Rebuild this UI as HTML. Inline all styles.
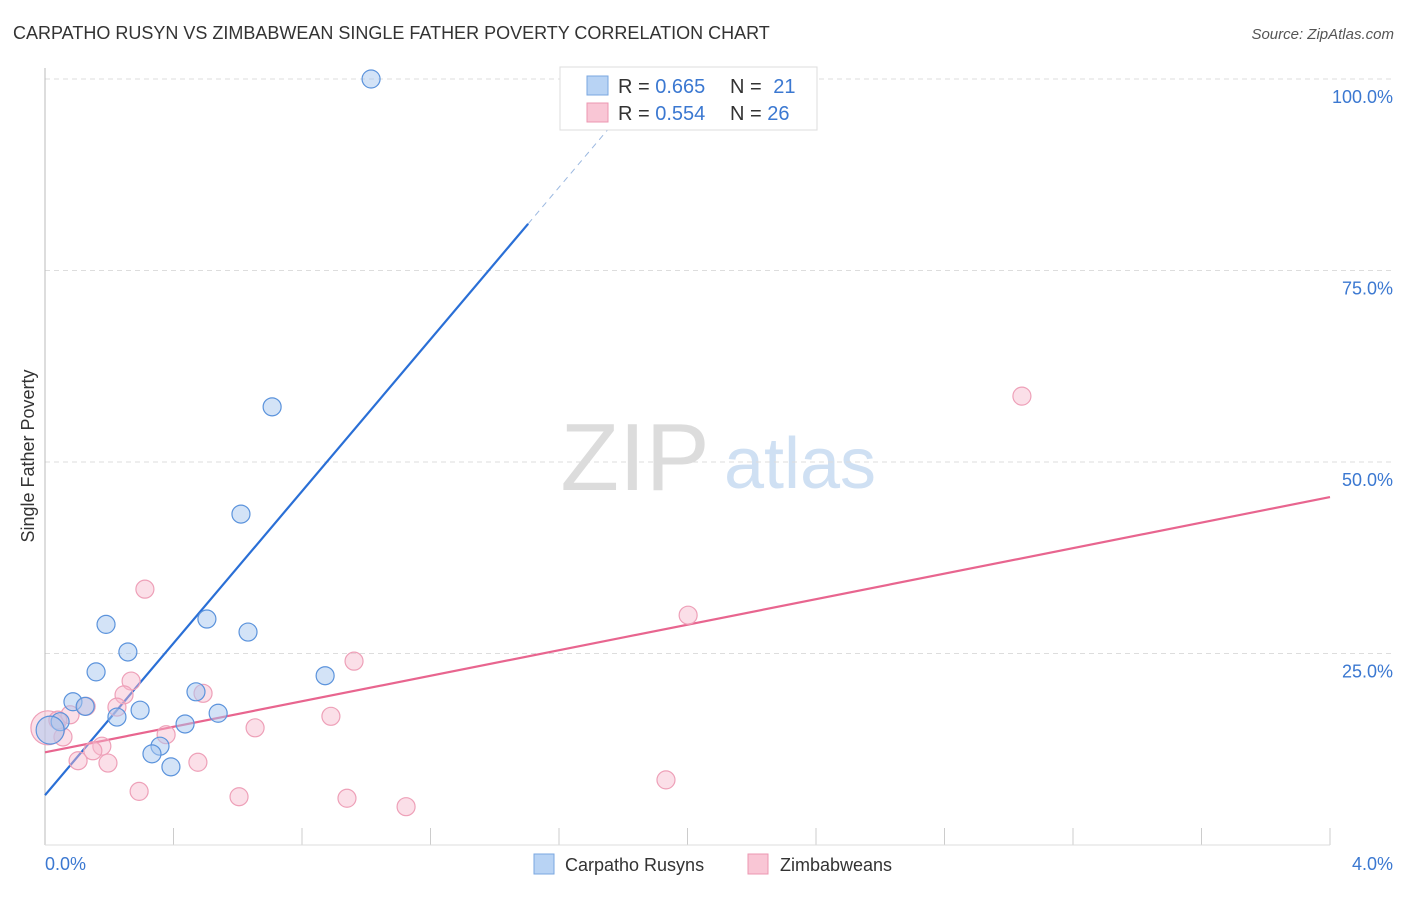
<!DOCTYPE html>
<html><head><meta charset="utf-8">
<style>
body{margin:0;background:#fff;font-family:"Liberation Sans",sans-serif;}
svg text{font-family:"Liberation Sans",sans-serif;}
</style></head>
<body>
<svg id="chart" width="1406" height="892" viewBox="0 0 1406 892" xmlns="http://www.w3.org/2000/svg">
<text x="13" y="39" font-size="18" fill="#333">CARPATHO RUSYN VS ZIMBABWEAN SINGLE FATHER POVERTY CORRELATION CHART</text>
<text x="1394" y="39" font-size="15" fill="#555" font-style="italic" text-anchor="end">Source: ZipAtlas.com</text>
<g>
<text x="635" y="490" font-size="96" fill="#dcdcdc" font-family="Liberation Serif" text-anchor="middle">ZIP</text>
<text x="800" y="488" font-size="72" fill="#cfe0f3" text-anchor="middle">atlas</text>
</g>
<g id="grid"></g>
<line x1="45" y1="68" x2="45" y2="845" stroke="#bbb"/>
<line x1="45" y1="845" x2="1330" y2="845" stroke="#ddd"/>
<text transform="translate(34,456) rotate(-90)" font-size="18" fill="#333" text-anchor="middle">Single Father Poverty</text>
<text x="45" y="870" font-size="18" fill="#3b78d1">0.0%</text>
<text x="1393" y="870" font-size="18" fill="#3b78d1" text-anchor="end">4.0%</text>
<g id="lines"></g>
<g id="points"></g>
<g>
<rect x="560" y="67" width="257" height="63" fill="#fff" stroke="#ddd"/>
<rect x="587" y="76" width="21" height="19" fill="#b8d3f4" stroke="#7aa7e0"/>
<rect x="587" y="103" width="21" height="19" fill="#f9c6d5" stroke="#ec97b1"/>
<text x="618" y="93" font-size="20" fill="#333">R = <tspan fill="#3b78d1">0.665</tspan></text>
<text x="730" y="93" font-size="20" fill="#333">N = <tspan fill="#3b78d1" dx="6">21</tspan></text>
<text x="618" y="120" font-size="20" fill="#333">R = <tspan fill="#3b78d1">0.554</tspan></text>
<text x="730" y="120" font-size="20" fill="#333">N = <tspan fill="#3b78d1">26</tspan></text>
</g>
<g>
<rect x="534" y="854" width="20" height="20" fill="#b8d3f4" stroke="#7aa7e0"/>
<text x="565" y="871" font-size="18" fill="#333">Carpatho Rusyns</text>
<rect x="748" y="854" width="20" height="20" fill="#f9c6d5" stroke="#ec97b1"/>
<text x="780" y="871" font-size="18" fill="#333">Zimbabweans</text>
</g>
</svg>
<script>
const yTicks=[25,50,75,100];
const yTickLabels=["25.0%","50.0%","75.0%","100.0%"];
const xTicks=[0.4,0.8,1.2,1.6,2.0,2.4,2.8,3.2,3.6,4.0];
const blueX=[1.015,0.707,0.610,0.504,0.632,0.190,0.258,0.159,0.087,0.125,0.470,0.296,0.224,0.047,0.016,0.539,0.436,0.872,0.358,0.333,0.392];
const blueY=[100.0,57.2,43.2,29.5,27.8,28.8,25.2,22.6,18.7,18.1,20.0,17.6,16.7,16.1,15.0,17.2,15.8,22.1,12.9,11.9,10.2];
const pinkX=[3.041,2.002,0.311,0.962,0.268,0.246,0.492,0.224,0.128,0.078,0.890,0.654,0.377,0.056,0.177,0.149,0.103,0.196,0.476,0.293,0.604,0.940,1.124,1.933,0.009,0.040];
const pinkY=[58.6,30.0,33.4,24.0,21.4,19.6,19.8,18.0,18.1,17.0,16.8,15.3,14.4,14.1,12.9,12.3,11.0,10.7,10.8,7.0,6.3,6.1,5.0,8.5,15.3,16.3];
const blueTrend=[6.5,49.6];
const pinkTrend=[12.1,8.33];
const NS="http://www.w3.org/2000/svg";
const xs=v=>45+v/4*1285;
const ys=v=>845-v/100*766;
function mk(tag,attrs,parent){const e=document.createElementNS(NS,tag);for(const k in attrs)e.setAttribute(k,attrs[k]);parent.appendChild(e);return e;}
const grid=document.getElementById('grid');
yTicks.forEach((t,i)=>{
 const l=mk('line',{x1:45,x2:1393,y1:ys(t),y2:ys(t),stroke:'#ddd','stroke-dasharray':'5,4'},grid);
 
 
 const tx=mk('text',{x:1393,y:ys(t)+24,'font-size':18,fill:'#3b78d1','text-anchor':'end'},grid);
 tx.textContent=yTickLabels[i];
 
 
});
xTicks.forEach(t=>{
 const l=mk('line',{x1:xs(t),x2:xs(t),y1:828,y2:845,stroke:'#ccc'},grid);
 
 
});
const lines=document.getElementById('lines');
const bEnd=1.504, bDash=1.86;
const bl=mk('line',{x1:xs(0),y1:ys(blueTrend[0]),x2:xs(bEnd),y2:ys(blueTrend[0]+blueTrend[1]*bEnd),stroke:'#2a6fd6','stroke-width':2.2},lines);


const bd=mk('line',{x1:xs(bEnd),y1:ys(blueTrend[0]+blueTrend[1]*bEnd),x2:xs(bDash),y2:ys(blueTrend[0]+blueTrend[1]*bDash),stroke:'#9bb8e0','stroke-width':1,'stroke-dasharray':'6,5'},lines);


const pl=mk('line',{x1:xs(0),y1:ys(pinkTrend[0]),x2:xs(4),y2:ys(pinkTrend[0]+pinkTrend[1]*4),stroke:'#e8658f','stroke-width':2.2},lines);


const pts=document.getElementById('points');
pinkX.forEach((x,i)=>{
 const c=mk('circle',{cx:xs(x),cy:ys(pinkY[i]),r:(i===24?17:9),fill:'rgba(246,183,203,0.45)',stroke:'#eea0b8','stroke-width':1.2},pts);
 
 
});
blueX.forEach((x,i)=>{
 const c=mk('circle',{cx:xs(x),cy:ys(blueY[i]),r:(i===14?14:9),fill:'rgba(168,200,240,0.5)',stroke:'#5b93dc','stroke-width':1.2},pts);
 
 
});
</script>
</body></html>
